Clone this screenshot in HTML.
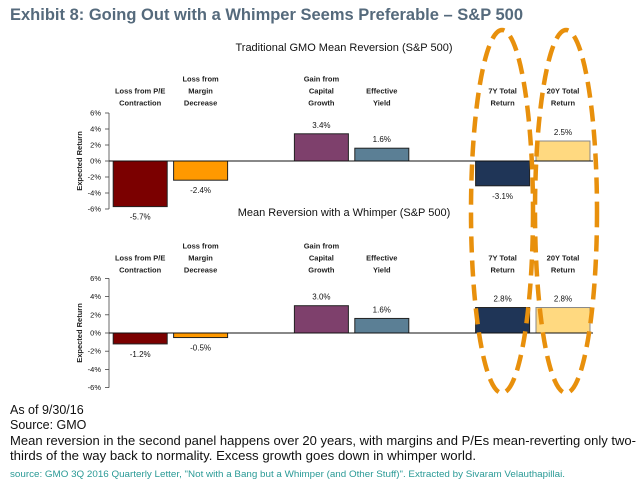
<!DOCTYPE html>
<html><head><meta charset="utf-8"><style>
body{margin:0;background:#fff;}
svg{display:block;font-family:"Liberation Sans",sans-serif;}
</style></head><body>
<svg id="chart" width="640" height="494" viewBox="0 0 640 494">
<text x="10" y="20" font-size="17" font-weight="bold" fill="#556a7c" textLength="513" lengthAdjust="spacingAndGlyphs">Exhibit 8: Going Out with a Whimper Seems Preferable – S&amp;P 500</text>
<g id="panels"></g>
<ellipse cx="502" cy="211.5" rx="31" ry="181.5" fill="none" stroke="#e8900c" stroke-width="4.5" stroke-dasharray="16,8"/>
<ellipse cx="566" cy="211.5" rx="31" ry="181.5" fill="none" stroke="#e8900c" stroke-width="4.5" stroke-dasharray="16,8"/>
<g font-size="12.5" fill="#111">
<text x="10" y="414">As of 9/30/16</text>
<text x="10" y="429">Source: GMO</text>
<text x="10" y="445" textLength="626" lengthAdjust="spacingAndGlyphs">Mean reversion in the second panel happens over 20 years, with margins and P/Es mean-reverting only two-</text>
<text x="10" y="460" textLength="466" lengthAdjust="spacingAndGlyphs">thirds of the way back to normality. Excess growth goes down in whimper world.</text>
<text x="10" y="477" font-size="9" fill="#2a9a96" textLength="555" lengthAdjust="spacingAndGlyphs">source: GMO 3Q 2016 Quarterly Letter, "Not with a Bang but a Whimper (and Other Stuff)". Extracted by Sivaram Velauthapillai.</text>
</g>
</svg>
<script>
const categories = [["Loss from P/E","Contraction"],["Loss from","Margin","Decrease"],null,["Gain from","Capital","Growth"],["Effective","Yield"],null,["7Y Total","Return"],["20Y Total","Return"]];
const traditionalValues = [-5.7,-2.4,null,3.4,1.6,null,-3.1,2.5];
const whimperValues = [-1.2,-0.5,null,3.0,1.6,null,2.8,2.8];
const barColors = ["#7b0000","#ff9900",null,"#7e406c","#5b7f95","#1f3557","#1f3557","#ffd980"];
const tickValues = [6,4,2,0,-2,-4,-6];
const panelTitles = ["Traditional GMO Mean Reversion (S&P 500)","Mean Reversion with a Whimper (S&P 500)"];

const NS="http://www.w3.org/2000/svg";
const root=document.getElementById('panels');
function mk(tag,attrs,parent){const e=document.createElementNS(NS,tag);for(const k in attrs)e.setAttribute(k,attrs[k]);parent.appendChild(e);return e;}
const x0=110, slotW=60.4, barW=54;
const panels=[
 {values:traditionalValues,zero:161,pxPer:8.0,titleY:51,labelY:[79,91,103],name:'traditional'},
 {values:whimperValues,zero:333,pxPer:9.1,titleY:216,labelY:[246,258,270],name:'whimper'}
];
panels.forEach((p,pi)=>{
 const g=mk('g',{},root);
 
 
 const yS=v=>p.zero-v*p.pxPer;
 const t=mk('text',{x:344,y:p.titleY,'font-size':11,'text-anchor':'middle',fill:'#111'},g);
 t.textContent=panelTitles[pi];
 
 
 const yt=mk('text',{x:0,y:0,'font-size':7.5,'font-weight':'bold','text-anchor':'middle',fill:'#222',transform:`translate(82,${p.zero}) rotate(-90)`},g);
 yt.textContent='Expected Return';
 
 
 tickValues.forEach(v=>{
  const tl=mk('text',{x:101,y:yS(v)+2.5,'font-size':7.5,'text-anchor':'end',fill:'#111'},g);
  tl.textContent=v+'%';
  
  
  const tk=mk('line',{x1:105,x2:109,y1:yS(v),y2:yS(v),stroke:'#444','stroke-width':0.8},g);
  
  
 });
 const ax=mk('line',{x1:109,x2:109,y1:yS(6),y2:yS(-6),stroke:'#444','stroke-width':0.8},g);
 
 
 categories.forEach((c,i)=>{
  const v=p.values[i]; if(v===null||c===null) return;
  const cx=x0+slotW*i+slotW/2;
  const lines=c; const off=3-lines.length;
  lines.forEach((ln,li)=>{
   const ct=mk('text',{x:cx,y:p.labelY[li+off]+2.5,'font-size':7.5,'font-weight':'bold','text-anchor':'middle',fill:'#222'},g);
   ct.textContent=ln;
   
   
  });
  const top=Math.min(yS(v),p.zero), h=Math.abs(yS(v)-p.zero);
  const r=mk('rect',{x:cx-barW/2,y:top,width:barW,height:h,fill:barColors[i],stroke:i===7?'#888':'#222','stroke-width':1},g);
  
  
  const vl=mk('text',{x:cx,y:v>=0?yS(v)-6:yS(v)+13,'font-size':8,'text-anchor':'middle',fill:'#111'},g);
  vl.textContent=v.toFixed(1)+'%';
  
  
 });
 const zl=mk('line',{x1:109,x2:593,y1:p.zero,y2:p.zero,stroke:'#111','stroke-width':1},g);
 
 
});
</script>
</body></html>
